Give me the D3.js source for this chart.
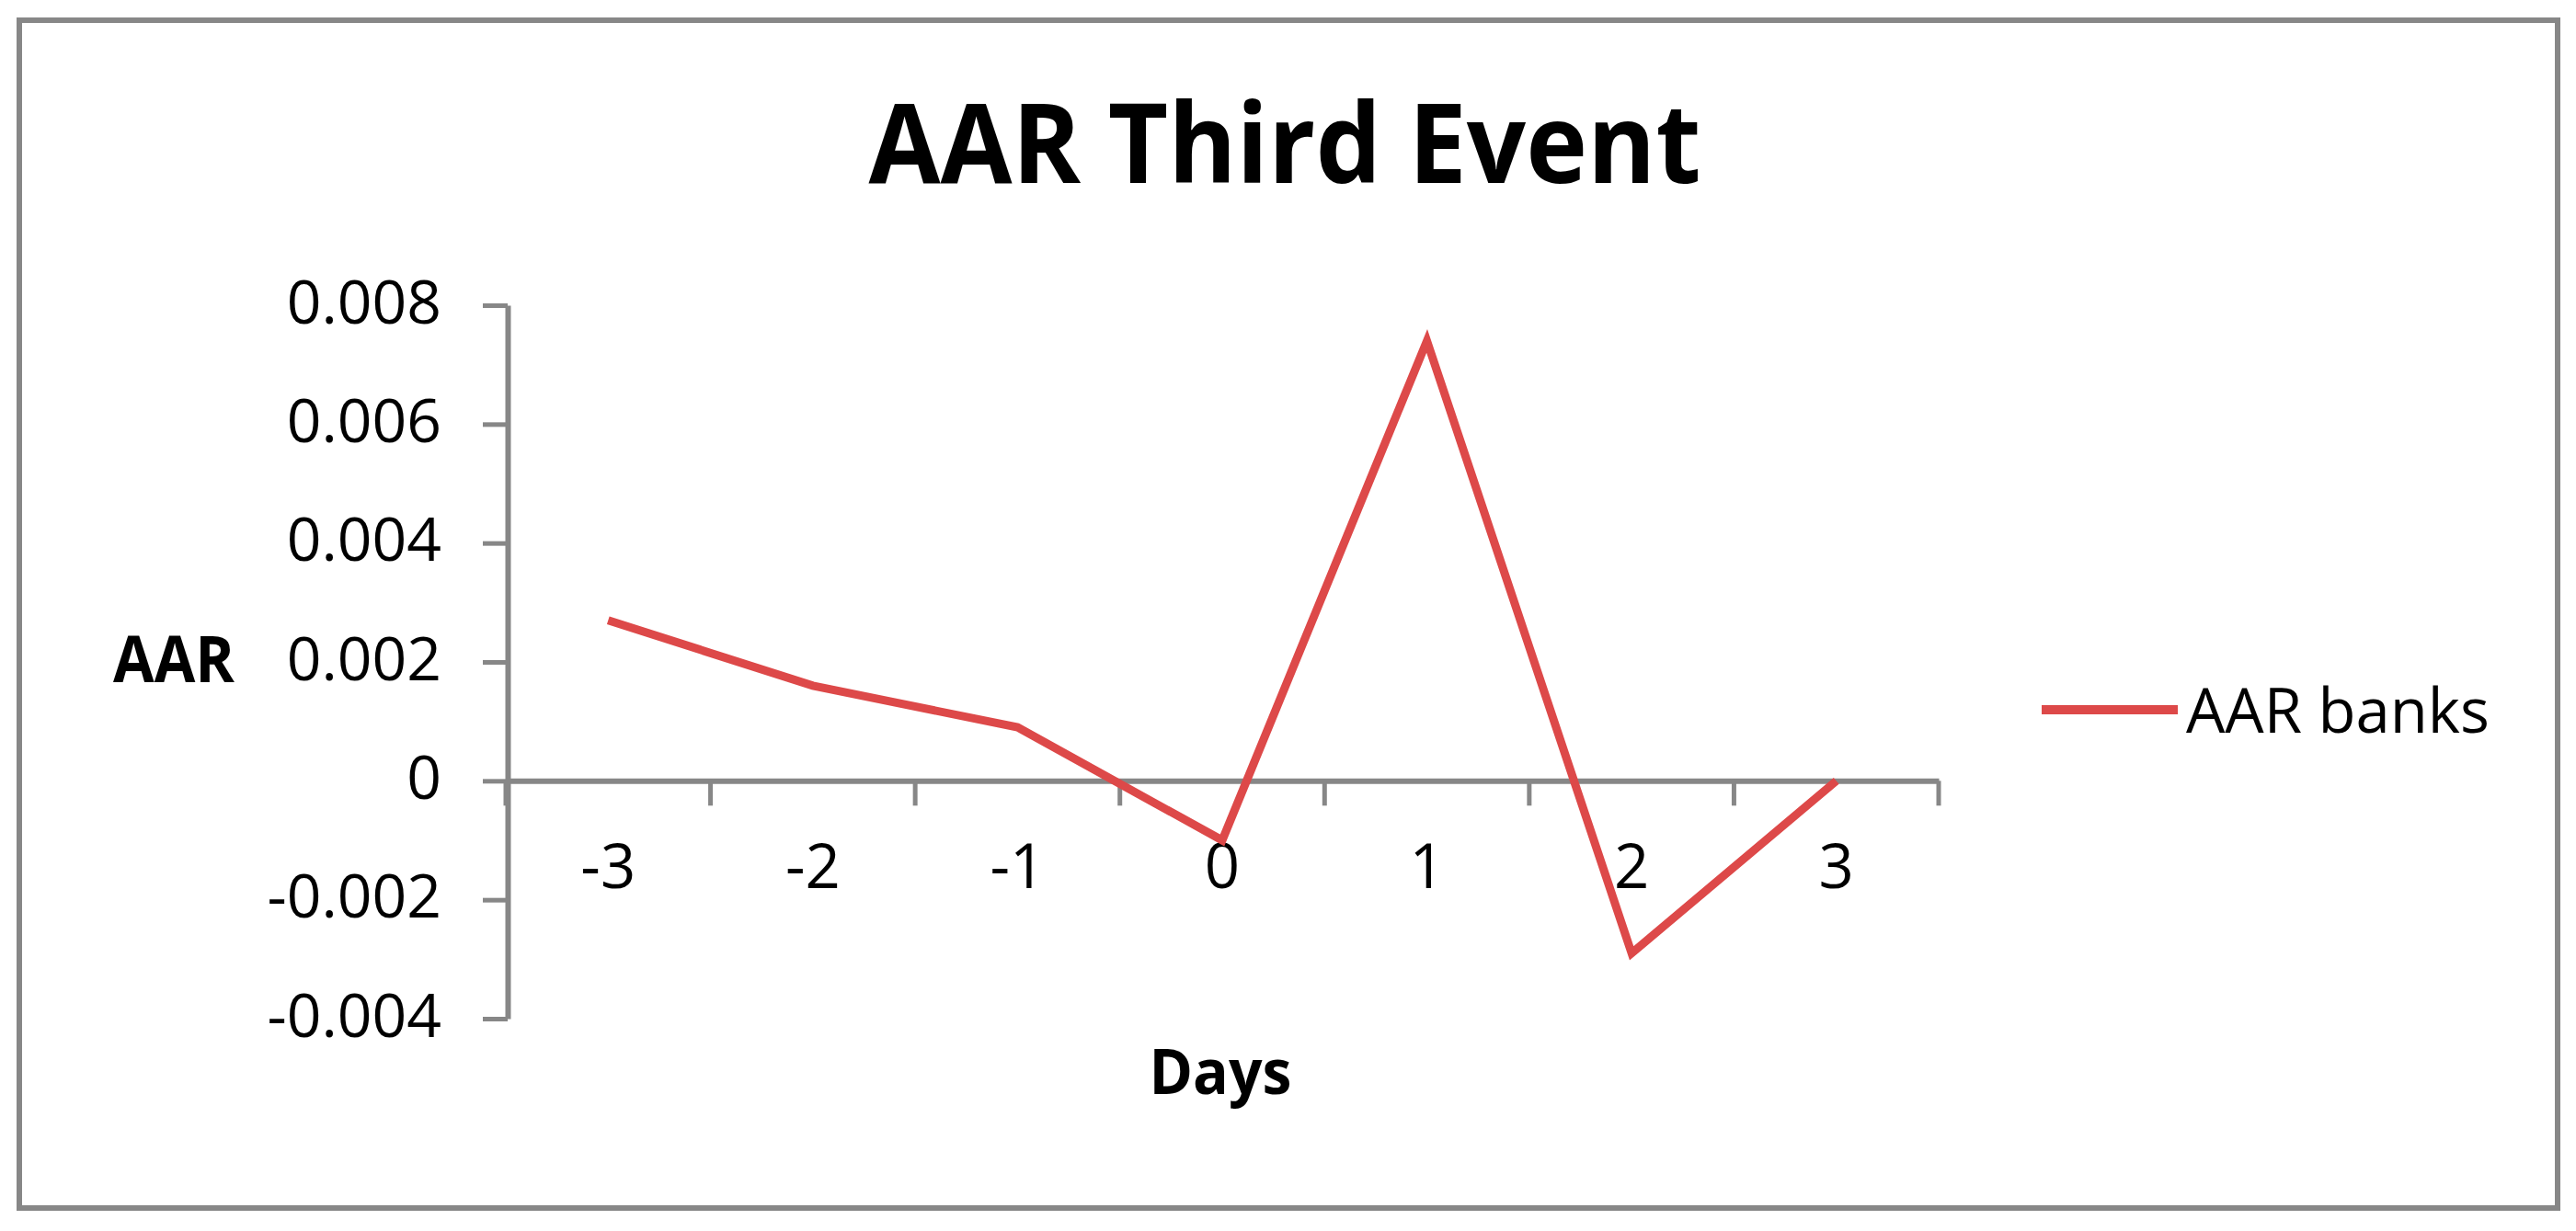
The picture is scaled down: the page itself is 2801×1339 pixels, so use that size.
<!DOCTYPE html>
<html><head><meta charset="utf-8">
<script src="https://cdn.jsdelivr.net/npm/d3@7"></script>
<style>html,body{margin:0;padding:0;background:#fff;} svg{display:block;}</style>
</head><body>
<script>
const days = ["-3", "-2", "-1", "0", "1", "2", "3"];
const aarBanks = [0.0027, 0.0016, 0.0009, -0.001, 0.0074, -0.0029, 0.0000];
const yTicks = [-0.004, -0.002, 0, 0.002, 0.004, 0.006, 0.008];
const yTickLabels = ["-0.004", "-0.002", "0", "0.002", "0.004", "0.006", "0.008"];
const chartTitle = "AAR Third Event";
const xTitle = "Days";
const yTitle = "AAR";
const seriesName = "AAR banks";

const W = 2801, H = 1339;
const axisColor = "#878787";
const lineColor = "#dd4949";
const font = "'Open Sans', 'Liberation Sans', sans-serif";

const svg = d3.select("body").append("svg").attr("width", W).attr("height", H)
  .style("font-family", font);

svg.append("rect").attr("width", W).attr("height", H).attr("fill", "#fff");
// outer frame
svg.append("rect").attr("x", 21).attr("y", 22).attr("width", 2760).attr("height", 1292)
  .attr("fill", "none").attr("stroke", axisColor).attr("stroke-width", 6);

const x = d3.scaleBand().domain(days).range([550, 2108]).padding(0);
const y = d3.scaleLinear().domain([-0.004, 0.008]).range([1108, 332]);

// Y axis
const yAxis = svg.append("g").attr("transform", "translate(552,0)")
  .call(d3.axisLeft(y).tickValues(yTicks).tickFormat((d, i) => yTickLabels[i])
    .tickSize(27).tickSizeOuter(0).tickPadding(45));
yAxis.select(".domain").attr("stroke", axisColor).attr("stroke-width", 6);
yAxis.selectAll(".tick line").attr("stroke", axisColor).attr("stroke-width", 5);
yAxis.selectAll(".tick text").attr("font-size", 66).attr("font-family", font)
  .attr("fill", "#000").attr("dy", "0.29em");

// X axis at zero
const y0 = y(0);
const xAxis = svg.append("g").attr("transform", `translate(0,${y0})`)
  .call(d3.axisBottom(x).tickSize(0).tickSizeOuter(0));
xAxis.select(".domain").attr("stroke", axisColor).attr("stroke-width", 6);
xAxis.selectAll(".tick text").attr("font-size", 67).attr("font-family", font)
  .attr("fill", "#000").attr("y", 117).attr("dy", 0);
// category boundary tick marks
const bounds = days.map(d => x(d)).concat([x.range()[1]]);
xAxis.selectAll("line.bound").data(bounds).join("line").attr("class", "bound")
  .attr("x1", d => d).attr("x2", d => d).attr("y1", 0).attr("y2", 27)
  .attr("stroke", axisColor).attr("stroke-width", 5);

// Data line
const data = days.map((d, i) => ({ day: d, v: aarBanks[i] }));
const line = d3.line().x(d => x(d.day) + x.bandwidth() / 2).y(d => y(d.v));
svg.append("path").datum(data).attr("d", line).attr("fill", "none")
  .attr("stroke", lineColor).attr("stroke-width", 9)
  .attr("stroke-linejoin", "miter").attr("stroke-miterlimit", 10);

// Title
svg.append("text").attr("x", 1397).attr("y", 199).attr("text-anchor", "middle")
  .attr("font-size", 120).attr("font-weight", "bold").attr("fill", "#000")
  .attr("textLength", 905).attr("lengthAdjust", "spacingAndGlyphs").text(chartTitle);

// Axis titles
svg.append("text").attr("x", 123).attr("y", 742)
  .attr("font-size", 70).attr("font-weight", "bold").attr("fill", "#000")
  .attr("textLength", 132).attr("lengthAdjust", "spacingAndGlyphs").text(yTitle);
svg.append("text").attr("x", 1327).attr("y", 1190).attr("text-anchor", "middle")
  .attr("font-size", 68).attr("font-weight", "bold").attr("fill", "#000")
  .attr("textLength", 155).attr("lengthAdjust", "spacingAndGlyphs").text(xTitle);

// Legend
const lg = svg.append("g");
lg.append("line").attr("x1", 2220).attr("x2", 2368).attr("y1", 772).attr("y2", 772)
  .attr("stroke", lineColor).attr("stroke-width", 10);
lg.append("text").attr("x", 2377).attr("y", 797).attr("font-size", 68).attr("fill", "#000")
  .attr("textLength", 330).attr("lengthAdjust", "spacingAndGlyphs").text(seriesName);
</script>
</body></html>
